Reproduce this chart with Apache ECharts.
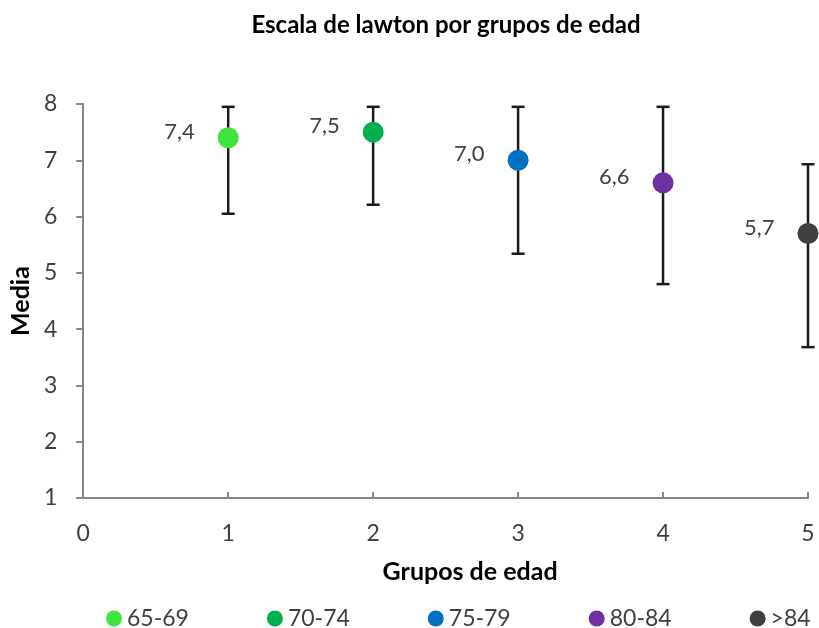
<!DOCTYPE html>
<html lang="es">

<head>
  <meta charset="UTF-8">
  <title>Escala de lawton</title>
  <script src="https://cdn.jsdelivr.net/npm/echarts@6/dist/echarts.min.js"></script>
</head>

<body style="margin:0">
  <div id="chart" style="width: 819px;height: 628px;"></div>
  <script>
    // datos
    const groups = ['65-69', '70-74', '75-79', '80-84', '>84']
    const xPos = [1, 2, 3, 4, 5]
    const means = [7.4, 7.5, 7.0, 6.6, 5.7]
    const lows = [6.05, 6.21, 5.34, 4.80, 3.68]
    const highs = [7.95, 7.95, 7.95, 7.95, 6.93]
    const colors = ['#3fe53f', '#00b050', '#0070c0', '#7030a0', '#404040']

    const myChart = echarts.init(document.getElementById('chart'))
    const font = 'Lato, "Open Sans", sans-serif'

    // barras de error (linea vertical + topes)
    const errorSeries = {
      type: 'custom',
      z: 1,
      silent: true,
      data: xPos.map((x, i) => [x, lows[i], highs[i]]),
      renderItem(params, api) {
        const top = api.coord([api.value(0), api.value(2)])
        const bot = api.coord([api.value(0), api.value(1)])
        const w = 6.5
        const style = { stroke: '#1a1a1a', lineWidth: 2.5 }
        return {
          type: 'group',
          children: [
            { type: 'line', shape: { x1: top[0], y1: top[1], x2: bot[0], y2: bot[1] }, style },
            { type: 'line', shape: { x1: top[0] - w, y1: top[1], x2: top[0] + w, y2: top[1] }, style },
            { type: 'line', shape: { x1: bot[0] - w, y1: bot[1], x2: bot[0] + w, y2: bot[1] }, style }
          ]
        }
      }
    }

    const pointSeries = groups.map((g, i) => ({
      name: g,
      type: 'scatter',
      z: 3,
      symbol: 'circle',
      symbolSize: 21,
      itemStyle: { color: colors[i], opacity: 1 },
      data: [[xPos[i], means[i]]],
      label: {
        show: true,
        position: 'left',
        distance: 5,
        offset: [-18, -6],
        color: '#404040',
        fontSize: 22,
        fontFamily: font,
        formatter: p => p.value[1].toFixed(1).replace('.', ',')
      }
    }))

    const option = {
      animation: false,
      backgroundColor: '#fff',
      title: {
        text: 'Escala de lawton por grupos de edad',
        left: 441,
        textAlign: 'center',
        top: 8,
        textStyle: { fontFamily: font, fontWeight: 'bold', fontSize: 24, color: '#000' }
      },
      legend: {
        left: 101,
        top: 602,
        icon: 'circle',
        itemWidth: 16,
        itemHeight: 16,
        itemGap: 78,
        textStyle: { fontFamily: font, fontSize: 23, color: '#404040', width: 62 },
        data: groups
      },
      grid: { left: 83, right: 11, top: 104, bottom: 130 },
      xAxis: {
        type: 'value',
        min: 0,
        max: 5,
        interval: 1,
        name: 'Grupos de edad',
        nameLocation: 'middle',
        nameGap: 61,
        nameTextStyle: { fontFamily: font, fontWeight: 'bold', fontSize: 25, color: '#000', padding: [0, 0, 0, 49] },
        axisLine: { lineStyle: { color: '#868686', width: 2 } },
        axisTick: { inside: true, length: 6, lineStyle: { color: '#868686', width: 2 } },
        axisLabel: { fontFamily: font, fontSize: 23, color: '#404040', margin: 24 },
        splitLine: { show: false }
      },
      yAxis: {
        type: 'value',
        min: 1,
        max: 8,
        interval: 1,
        name: 'Media',
        nameLocation: 'middle',
        nameGap: 48,
        nameTextStyle: { fontFamily: font, fontWeight: 'bold', fontSize: 25, color: '#000' },
        axisLine: { show: true, lineStyle: { color: '#868686', width: 2 } },
        axisTick: { show: true, length: 7, lineStyle: { color: '#868686', width: 2 } },
        axisLabel: { fontFamily: font, fontSize: 23, color: '#404040', margin: 26 },
        splitLine: { show: false }
      },
      series: [errorSeries, ...pointSeries]
    }

    myChart.setOption(option)
  </script>
</body>

</html>
